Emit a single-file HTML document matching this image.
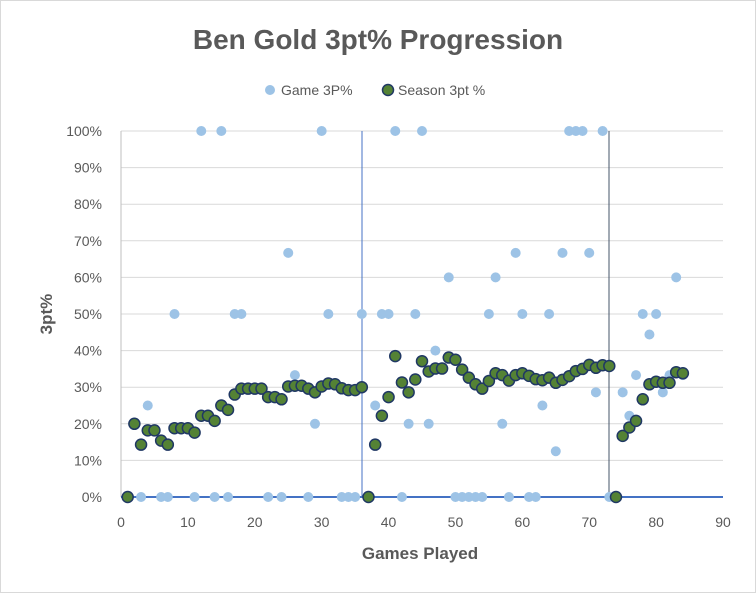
<!DOCTYPE html>
<html><head><meta charset="utf-8"><style>
body{margin:0;background:#fff}
svg{display:block;font-family:"Liberation Sans",sans-serif}
</style></head><body>
<svg id="s" width="756" height="593" xmlns="http://www.w3.org/2000/svg">
<rect x="0.5" y="0.5" width="755" height="592" fill="#fff" stroke="#d9d9d9"/>
<text x="378" y="49" text-anchor="middle" font-size="28" font-weight="bold" fill="#595959">Ben Gold 3pt% Progression</text>
<circle cx="270" cy="90" r="5" fill="#9dc3e6"/>
<text x="281" y="95" font-size="14" fill="#595959">Game 3P%</text>
<circle cx="388" cy="90" r="5.5" fill="#548235" stroke="#203864" stroke-width="1.5"/>
<text x="398" y="95" font-size="14" fill="#595959">Season 3pt %</text>
<g id="g"></g>
<text x="420" y="559" text-anchor="middle" font-size="17" font-weight="bold" fill="#595959">Games Played</text>
<text transform="translate(52,314) rotate(-90)" text-anchor="middle" font-size="17" font-weight="bold" fill="#595959">3pt%</text>
</svg>
<script>
const g=document.getElementById('g');let h='';
const X=v=>121+v*6.689, Y=p=>497-p*3.66;
for(let p=10;p<=100;p+=10)h+=`<line x1="121" x2="723" y1="${Y(p)}" y2="${Y(p)}" stroke="#d9d9d9" stroke-width="1"/>`;
for(let p=0;p<=100;p+=10)h+=`<text x="102" y="${Y(p)+5}" text-anchor="end" font-size="14" fill="#595959">${p}%</text>`;
for(let x=0;x<=90;x+=10)h+=`<text x="${X(x)}" y="527" text-anchor="middle" font-size="14" fill="#595959">${x}</text>`;
h+=`<line x1="121" x2="121" y1="131" y2="497" stroke="#bfbfbf"/>`;
h+=`<line x1="362" x2="362" y1="131" y2="497" stroke="#4472c4"/>`;
h+=`<line x1="609" x2="609" y1="131" y2="497" stroke="#44546a"/>`;
h+=`<line x1="121" x2="723" y1="497" y2="497" stroke="#4472c4" stroke-width="2"/>`;
const game=[[3,0],[4,25],[6,0],[7,0],[8,50],[11,0],[12,100],[14,0],[15,100],[16,0],[17,50],[18,50],[22,0],[24,0],[25,66.7],[26,33.3],[28,0],[29,20],[30,100],[31,50],[33,0],[34,0],[35,0],[36,50],[38,25],[39,50],[40,50],[41,100],[42,0],[43,20],[44,50],[45,100],[46,20],[47,40],[49,60],[50,0],[51,0],[52,0],[53,0],[54,0],[55,50],[56,60],[57,20],[58,0],[59,66.7],[60,50],[61,0],[62,0],[63,25],[64,50],[65,12.5],[66,66.7],[67,100],[68,100],[69,100],[70,66.7],[71,28.6],[72,100],[73,0],[75,28.6],[76,22.2],[77,33.3],[78,50],[79,44.4],[80,50],[81,28.6],[82,33.3],[83,60],[84,33.3]];
game.forEach(([x,p])=>h+=`<circle cx="${X(x)}" cy="${Y(p)}" r="5" fill="#9dc3e6"/>`);
const s=[0,20,14.3,18.2,18.2,15.4,14.3,18.8,18.8,18.8,17.6,22.2,22.2,20.8,25,23.8,28,29.6,29.6,29.6,29.6,27.3,27.3,26.7,30.2,30.4,30.4,29.6,28.6,30.2,31,30.8,29.7,29.2,29.2,30,0,14.3,22.2,27.3,38.5,31.3,28.6,32.1,37.1,34.3,35.1,35.1,38.1,37.5,34.8,32.6,30.8,29.6,31.7,33.8,33.3,31.8,33.3,33.8,33.1,32.2,31.9,32.6,31.2,32,33,34.4,35,36.1,35.3,36,35.8,0,16.7,19,20.8,26.7,30.8,31.5,31.2,31.2,34.1,33.8];
s.forEach((p,i)=>h+=`<circle cx="${X(i+1)}" cy="${Y(p)}" r="5.5" fill="#548235" stroke="#203864" stroke-width="1.5"/>`);
g.innerHTML=h;
</script>
</body></html>
